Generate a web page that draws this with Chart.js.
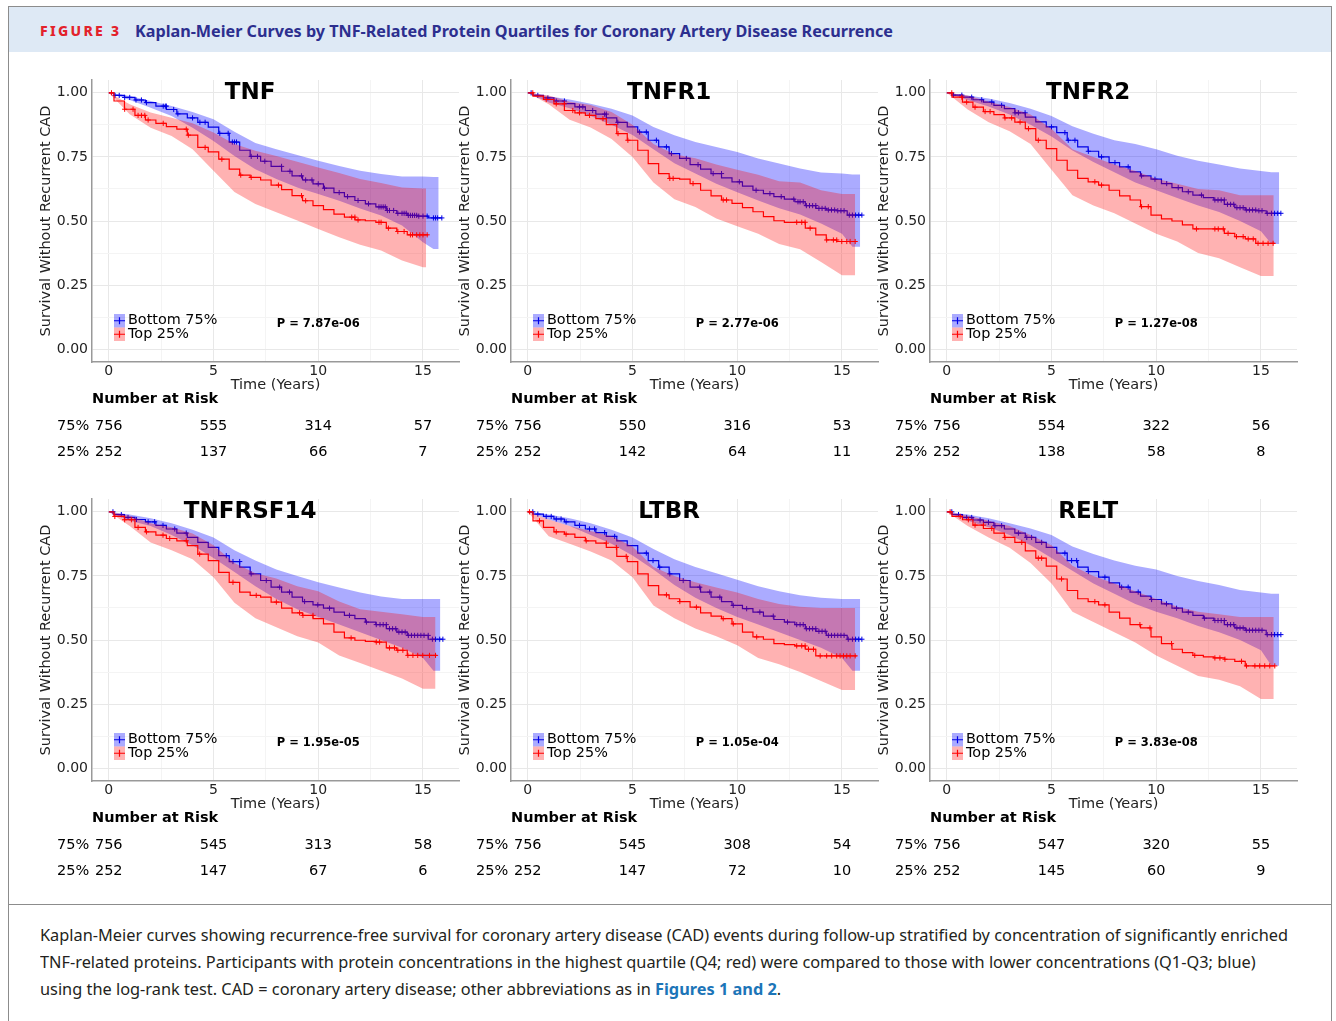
<!DOCTYPE html>
<html>
<head>
<meta charset="utf-8">
<script src="https://cdn.jsdelivr.net/npm/chart.js@4.4.1/dist/chart.umd.min.js"></script>
<style>
  body { margin: 0; background: #fff; }
  #page { position: relative; width: 1336px; height: 1021px; overflow: hidden; font-family: 'Noto Sans', sans-serif; }
  #frame { position: absolute; left: 8px; top: 6px; width: 1322px; height: 1040px; border: 1px solid #8c8c8c; }
  #head { position: absolute; left: 9px; top: 7px; width: 1322px; height: 45px; background: #dee9f5; }
  #figno { position: absolute; left: 40px; top: 21px; font-weight: 800; font-size: 14px; letter-spacing: 2.3px; color: #e3222b; white-space: nowrap; }
  #figtitle { position: absolute; left: 135px; top: 20px; font-weight: bold; font-size: 16px; color: #2c2f8f; white-space: nowrap; transform-origin: 0 0; }
  #rule { position: absolute; left: 9px; top: 904px; width: 1322px; height: 1px; background: #8c8c8c; }
  #caption { position: absolute; left: 40px; top: 922px; font-size: 16px; line-height: 27px; color: #231f20; }
  #caption div { white-space: nowrap; transform-origin: 0 0; }
  #caption b { color: #1c75b8; }
  canvas.panel { position: absolute; }
</style>
</head>
<body>
<div id="page">
  <div id="frame"></div>
  <div id="head"></div>
  <div id="figno">FIGURE 3</div>
  <div id="figtitle">Kaplan-Meier Curves by TNF-Related Protein Quartiles for Coronary Artery Disease Recurrence</div>
  <div id="rule"></div>
  <div id="caption">
    <div>Kaplan-Meier curves showing recurrence-free survival for coronary artery disease (CAD) events during follow-up stratified by concentration of significantly enriched</div>
    <div>TNF-related proteins. Participants with protein concentrations in the highest quartile (Q4; red) were compared to those with lower concentrations (Q1-Q3; blue)</div>
    <div>using the log-rank test. CAD = coronary artery disease; other abbreviations as in <b>Figures 1 and 2</b>.</div>
  </div>
</div>
<script>
const proteins = ['TNF', 'TNFR1', 'TNFR2', 'TNFRSF14', 'LTBR', 'RELT'];
const pValues = ['7.87e-06', '2.77e-06', '1.27e-08', '1.95e-05', '1.05e-04', '3.83e-08'];
const groupLabels = ['Bottom 75%', 'Top 25%'];
const riskLabels = ['75%', '25%'];
const riskTimes = [0, 5, 10, 15];
const riskBottom = [
  [756, 555, 314, 57], [756, 550, 316, 53], [756, 554, 322, 56],
  [756, 545, 313, 58], [756, 545, 308, 54], [756, 547, 320, 55]
];
const riskTop = [
  [252, 137, 66, 7], [252, 142, 64, 11], [252, 138, 58, 8],
  [252, 147, 67, 6], [252, 147, 72, 10], [252, 145, 60, 9]
];
const xTicks = [0, 2.5, 5, 7.5, 10, 12.5, 15];
const yTicks = [0, 0.125, 0.25, 0.375, 0.5, 0.625, 0.75, 0.875, 1];

// KM estimates read every half year
const lineTimes = [0, 0.5, 1, 1.5, 2, 2.5, 3, 3.5, 4, 4.5, 5, 5.5, 6, 6.5, 7, 7.5,
  8, 8.5, 9, 9.5, 10, 10.5, 11, 11.5, 12, 12.5, 13, 13.5, 14, 14.5, 15, 15.5];
const survBottom = [
  [1, .990, .982, .972, .962, .948, .935, .918, .902, .885, .866, .842, .808, .776, .752, .733, .713, .694, .676, .660, .645, .628, .611, .595, .580, .567, .555, .541, .530, .522, .519, .512],
  [1, .990, .980, .968, .958, .945, .931, .917, .902, .885, .867, .847, .815, .789, .763, .744, .720, .702, .685, .668, .653, .636, .620, .607, .595, .585, .575, .560, .549, .543, .540, .523],
  [1, .991, .983, .973, .964, .951, .938, .922, .905, .887, .867, .845, .815, .789, .772, .750, .728, .711, .692, .676, .663, .646, .630, .614, .601, .591, .582, .565, .552, .543, .540, .530],
  [1, .989, .978, .970, .961, .947, .933, .917, .900, .881, .861, .829, .806, .784, .758, .732, .706, .687, .667, .650, .637, .624, .609, .596, .583, .570, .560, .544, .531, .518, .518, .503],
  [1, .991, .982, .972, .961, .947, .933, .919, .904, .887, .868, .839, .810, .784, .758, .732, .706, .687, .667, .650, .635, .622, .609, .593, .580, .570, .560, .544, .534, .518, .518, .503],
  [1, .989, .978, .968, .959, .946, .933, .917, .900, .881, .861, .839, .810, .784, .767, .745, .723, .706, .687, .671, .658, .641, .624, .609, .596, .585, .576, .560, .547, .538, .538, .521]
];
const survTop = [
  [1, .968, .936, .912, .894, .881, .868, .858, .835, .787, .770, .741, .702, .679, .670, .660, .640, .622, .599, .579, .560, .544, .527, .515, .504, .501, .495, .472, .459, .446, .446, null],
  [1, .987, .974, .957, .931, .922, .912, .899, .876, .841, .815, .776, .724, .685, .666, .663, .646, .620, .598, .582, .569, .552, .536, .517, .501, .495, .495, .472, .446, .426, .420, .420],
  [1, .983, .964, .944, .927, .915, .902, .886, .860, .815, .782, .737, .698, .666, .653, .640, .620, .598, .582, .556, .523, .508, .500, .485, .469, .469, .469, .452, .439, .430, .413, .413],
  [1, .982, .969, .939, .922, .909, .896, .887, .868, .835, .810, .764, .725, .687, .674, .667, .648, .624, .606, .596, .583, .563, .531, .508, .499, .495, .492, .469, .460, .440, .440, .440],
  [1, .965, .939, .922, .913, .900, .887, .878, .861, .826, .806, .758, .712, .676, .661, .650, .628, .606, .593, .583, .563, .531, .512, .503, .486, .482, .477, .464, .438, .438, .438, .438],
  [1, .982, .969, .948, .935, .917, .900, .881, .848, .819, .788, .738, .693, .661, .650, .637, .609, .585, .560, .547, .512, .486, .464, .451, .440, .434, .430, .425, .417, .399, .399, .399]
];

// 95% confidence limits read every year
const bandTimes = [0, 1, 2, 3, 4, 5, 6, 7, 8, 9, 10, 11, 12, 13, 14, 15, 15.5];
const bottomUpper = [
  [1, .988, .968, .949, .925, .897, .848, .804, .780, .757, .735, .715, .696, .683, .674, .674, .672],
  [1, .987, .974, .957, .938, .912, .867, .834, .808, .789, .769, .744, .724, .705, .689, .685, .681],
  [1, .990, .978, .960, .938, .910, .870, .840, .815, .800, .780, .755, .735, .720, .705, .695, .690],
  [1, .990, .975, .955, .930, .900, .850, .810, .775, .750, .725, .705, .685, .670, .660, .660, .660],
  [1, .990, .975, .955, .930, .900, .855, .815, .785, .760, .735, .710, .690, .675, .665, .660, .660],
  [1, .990, .975, .955, .935, .910, .865, .835, .810, .790, .775, .750, .730, .715, .695, .685, .680]
];
const bottomLower = [
  [1, .972, .942, .910, .864, .812, .754, .702, .664, .631, .605, .579, .549, .521, .482, .417, .391],
  [1, .962, .940, .910, .875, .835, .780, .725, .685, .645, .612, .580, .550, .525, .490, .450, .400],
  [1, .972, .947, .915, .875, .830, .775, .730, .690, .650, .620, .590, .560, .535, .500, .460, .410],
  [1, .965, .945, .910, .870, .820, .765, .710, .660, .620, .590, .560, .530, .500, .470, .430, .380],
  [1, .970, .945, .910, .875, .830, .775, .715, .665, .625, .590, .560, .530, .500, .470, .430, .380],
  [1, .965, .940, .910, .870, .820, .770, .720, .680, .640, .610, .585, .555, .530, .500, .460, .400]
];
const topUpper = [
  [1, .955, .923, .903, .881, .845, .800, .774, .754, .731, .709, .687, .664, .648, .631, .627, .627],
  [1, .990, .965, .952, .925, .875, .800, .760, .745, .720, .700, .680, .655, .650, .620, .605, .605],
  [1, .990, .965, .945, .915, .860, .780, .750, .720, .695, .665, .645, .625, .620, .600, .600, .600],
  [1, .985, .955, .940, .915, .870, .800, .760, .740, .710, .690, .650, .620, .610, .600, .590, .590],
  [1, .970, .945, .925, .905, .865, .785, .750, .725, .705, .685, .660, .640, .630, .625, .625, .625],
  [1, .985, .965, .945, .910, .870, .790, .750, .720, .690, .660, .630, .610, .600, .590, .590, .590]
];
const topLower = [
  [1, .916, .864, .832, .780, .696, .613, .566, .534, .502, .469, .437, .407, .385, .346, .320, .320],
  [1, .955, .895, .865, .820, .750, .650, .585, .555, .510, .480, .450, .410, .390, .340, .288, .288],
  [1, .935, .885, .850, .800, .700, .600, .560, .530, .490, .450, .420, .375, .355, .320, .285, .285],
  [1, .945, .880, .850, .815, .745, .645, .585, .550, .515, .490, .440, .410, .380, .350, .310, .310],
  [1, .905, .875, .845, .810, .745, .635, .585, .545, .515, .480, .430, .405, .375, .340, .305, .305],
  [1, .945, .900, .860, .800, .720, .610, .570, .530, .490, .440, .400, .360, .345, .320, .270, .270]
];

// last follow-up [bottom, top] for the curves and for the bands
const lineEnd = [[15.9, 15.25], [15.95, 15.7], [15.95, 15.66], [15.95, 15.66], [15.95, 15.7], [15.95, 15.66]];
const bandEnd = [[15.75, 15.15], [15.87, 15.63], [15.87, 15.61], [15.83, 15.6], [15.87, 15.63], [15.87, 15.61]];

// censoring times (years)
const censorBottom = [
  [0.3, 0.5, 0.76, 1.0, 1.3, 1.56, 1.8, 2.6, 2.7, 2.75, 3.1, 3.3, 4.0, 4.35, 4.6, 5.3, 5.7, 5.9, 6.0, 6.1, 6.8, 7.1, 7.45, 8.25, 8.65, 9.2, 9.4, 9.7, 10.0, 10.3, 11.0, 11.4, 11.9, 12.4, 12.9, 13.0, 13.1, 13.2, 13.3, 13.4, 13.6, 13.8, 14.0, 14.1, 14.2, 14.3, 14.4, 14.5, 14.6, 14.7, 14.8, 15.0, 15.2, 15.5, 15.6, 15.7, 15.9],
  [0.16, 0.48, 0.96, 1.36, 1.75, 2.47, 2.63, 3.1, 3.67, 3.75, 4.3, 5.34, 5.66, 6.14, 6.62, 6.86, 7.57, 8.13, 8.85, 9.25, 10.1, 10.9, 11.56, 12.1, 12.7, 12.9, 13.0, 13.15, 13.3, 13.45, 13.6, 13.75, 13.9, 14.05, 14.2, 14.35, 14.5, 14.65, 14.8, 14.95, 15.1, 15.35, 15.5, 15.65, 15.8, 15.95],
  [0.32, 0.72, 1.19, 1.67, 2.15, 2.62, 3.26, 3.42, 3.74, 5.0, 5.64, 5.8, 6.12, 6.76, 7.39, 8.03, 8.66, 9.3, 9.94, 10.5, 11.05, 11.53, 12.16, 12.8, 12.95, 13.1, 13.25, 13.4, 13.55, 13.7, 13.85, 14.0, 14.15, 14.3, 14.45, 14.6, 14.75, 14.9, 15.05, 15.3, 15.5, 15.65, 15.8, 15.95],
  [0.2, 0.6, 0.92, 1.32, 1.88, 2.19, 2.59, 3.15, 3.7, 5.61, 5.93, 6.25, 6.8, 7.52, 8.16, 8.63, 9.35, 9.98, 10.54, 11.49, 12.3, 12.77, 12.95, 13.1, 13.25, 13.4, 13.55, 13.7, 13.85, 14.0, 14.15, 14.3, 14.45, 14.6, 14.75, 14.9, 15.05, 15.25, 15.45, 15.6, 15.8, 15.95],
  [0.24, 0.48, 0.88, 1.12, 1.36, 1.59, 1.83, 2.47, 2.95, 3.19, 3.67, 4.15, 5.66, 5.98, 6.3, 6.78, 7.42, 8.21, 8.69, 9.17, 9.81, 10.45, 11.08, 11.72, 12.4, 12.84, 13.0, 13.15, 13.3, 13.45, 13.6, 13.75, 13.9, 14.05, 14.2, 14.35, 14.5, 14.65, 14.8, 14.95, 15.1, 15.3, 15.5, 15.65, 15.8, 15.95],
  [0.24, 0.56, 0.95, 1.19, 1.59, 1.99, 2.3, 2.62, 3.42, 3.82, 4.05, 4.53, 5.64, 5.96, 6.2, 6.76, 7.55, 8.35, 8.66, 9.14, 9.78, 10.49, 10.97, 11.53, 12.3, 12.8, 12.95, 13.1, 13.25, 13.4, 13.55, 13.7, 13.85, 14.0, 14.15, 14.3, 14.45, 14.6, 14.75, 14.9, 15.05, 15.3, 15.5, 15.65, 15.8, 15.95]
];
const censorTop = [
  [0.13, 0.76, 1.16, 1.4, 1.56, 1.72, 1.88, 2.6, 3.7, 3.8, 4.6, 5.4, 6.3, 6.8, 8.1, 9.2, 9.4, 11.6, 11.75, 11.9, 12.9, 13.0, 13.35, 13.8, 14.1, 14.4, 14.5, 14.7, 14.85, 15.0, 15.2],
  [0.24, 0.88, 1.36, 1.75, 2.15, 2.47, 2.95, 3.59, 4.31, 4.78, 6.78, 6.94, 7.89, 9.33, 9.49, 12.84, 13.08, 13.24, 13.48, 14.27, 14.59, 14.75, 14.99, 15.23, 15.39, 15.63],
  [0.24, 0.72, 0.95, 1.35, 1.83, 2.07, 2.78, 3.1, 3.5, 3.9, 4.37, 7.07, 7.39, 9.3, 9.62, 11.92, 12.8, 12.96, 13.2, 13.43, 13.83, 14.15, 14.39, 14.63, 14.86, 15.1, 15.34, 15.58],
  [0.29, 0.76, 1.08, 1.4, 1.8, 2.59, 2.91, 3.7, 4.34, 5.93, 7.04, 8.0, 9.11, 9.27, 9.75, 11.57, 12.77, 12.93, 13.4, 13.64, 13.8, 14.04, 14.28, 14.52, 14.75, 14.99, 15.31, 15.6],
  [0.08, 0.56, 1.36, 1.83, 2.79, 3.75, 4.23, 4.7, 6.62, 7.26, 8.05, 9.33, 9.81, 10.93, 12.84, 13.08, 13.24, 13.4, 13.64, 13.96, 14.27, 14.51, 14.75, 14.91, 15.07, 15.23, 15.39, 15.63],
  [0.16, 0.64, 1.03, 1.35, 1.75, 2.15, 2.78, 3.58, 4.37, 4.53, 5.48, 7.07, 7.55, 9.22, 9.7, 10.73, 11.84, 12.8, 13.04, 13.28, 14.07, 14.31, 14.71, 14.94, 15.18, 15.42, 15.66]
];

const lineColor = ['#0000e6', '#ff0000'];
const bandColor = ['rgba(0, 0, 255, 0.33)', 'rgba(255, 0, 0, 0.3)'];
const FONT = '"DejaVu Sans", sans-serif';

// curve points up to the end of follow-up, last value carried to the end
function curvePoints(times, values, end) {
  const pts = [];
  times.forEach((t, i) => {
    if (t < end && values[i] != null) pts.push({ x: t, y: values[i] });
  });
  pts.push({ x: end, y: pts[pts.length - 1].y });
  return pts;
}

// censor marks sit on the drawn step curve
function censorPoints(cens, values) {
  return cens.map(t => {
    let best = 0;
    lineTimes.forEach((lt, i) => {
      if (values[i] != null && Math.abs(lt - t) < Math.abs(lineTimes[best] - t)) best = i;
    });
    return { x: t, y: values[best] };
  });
}

const isMajorX = v => v % 5 === 0;
const isMajorY = v => Math.abs(v * 4 - Math.round(v * 4)) < 1e-9;

function panelText(p) {
  return {
    id: 'panelText',
    afterDraw(chart) {
      const { ctx, chartArea: a, scales: { x, y } } = chart;
      ctx.save();
      ctx.fillStyle = '#000';
      ctx.textBaseline = 'middle';
      ctx.textAlign = 'center';
      ctx.font = 'bold 23px ' + FONT;
      ctx.fillText(proteins[p], x.getPixelForValue(6.75), y.getPixelForValue(1));
      ctx.font = 'bold 11.5px ' + FONT;
      ctx.fillText('P = ' + pValues[p], x.getPixelForValue(10), y.getPixelForValue(0.1));

      // legend keys: band colour, line and a cross
      const kx = a.left + 22, ky = a.bottom - 48, kw = 11, kh = 13.5;
      groupLabels.forEach((label, i) => {
        const top = ky + i * kh, cy = top + kh / 2;
        ctx.fillStyle = bandColor[i];
        ctx.fillRect(kx, top, kw, kh);
        ctx.strokeStyle = lineColor[i];
        ctx.lineWidth = 1.2;
        ctx.beginPath();
        ctx.moveTo(kx, cy); ctx.lineTo(kx + kw, cy);
        ctx.moveTo(kx + kw / 2, cy - 3.5); ctx.lineTo(kx + kw / 2, cy + 3.5);
        ctx.stroke();
        ctx.fillStyle = '#000';
        ctx.textAlign = 'left';
        ctx.font = '14.4px ' + FONT;
        ctx.fillText(label, kx + kw + 3, cy);
      });

      // number at risk table under the axis
      ctx.font = 'bold 14.5px ' + FONT;
      ctx.textAlign = 'left';
      ctx.fillText('Number at Risk', a.left, a.bottom + 37);
      ctx.font = '14.5px ' + FONT;
      [riskBottom[p], riskTop[p]].forEach((row, r) => {
        const ry = a.bottom + 64 + r * 26;
        ctx.textAlign = 'left';
        ctx.fillText(riskLabels[r], a.left - 35, ry);
        ctx.textAlign = 'center';
        row.forEach((n, k) => ctx.fillText(String(n), x.getPixelForValue(riskTimes[k]), ry));
      });
      ctx.restore();
    }
  };
}

function makeChart(canvas, p) {
  const groups = [
    { surv: survTop[p], hi: topUpper[p], lo: topLower[p], cens: censorTop[p], end: lineEnd[p][1], bEnd: bandEnd[p][1], c: 1 },
    { surv: survBottom[p], hi: bottomUpper[p], lo: bottomLower[p], cens: censorBottom[p], end: lineEnd[p][0], bEnd: bandEnd[p][0], c: 0 }
  ];
  // index order = drawing order from the top: red on top of blue
  const datasets = [];
  groups.forEach(g => {
    const base = datasets.length;
    datasets.push({
      data: censorPoints(g.cens, g.surv), showLine: false, pointStyle: 'cross',
      pointRadius: 2.6, pointBorderWidth: 1, pointBorderColor: lineColor[g.c]
    });
    datasets.push({
      data: curvePoints(lineTimes, g.surv, g.end), stepped: 'middle',
      borderColor: lineColor[g.c], borderWidth: 1.2, pointRadius: 0
    });
    datasets.push({
      data: curvePoints(bandTimes, g.hi, g.bEnd), borderColor: 'transparent', borderWidth: 0,
      pointRadius: 0, fill: base + 3, backgroundColor: bandColor[g.c]
    });
    datasets.push({
      data: curvePoints(bandTimes, g.lo, g.bEnd), borderColor: 'transparent', borderWidth: 0,
      pointRadius: 0, fill: false
    });
  });

  return new Chart(canvas, {
    type: 'line',
    data: { datasets },
    options: {
      responsive: false,
      animation: false,
      events: [],
      layout: { padding: { left: 8, top: 20, right: 11, bottom: 76 } },
      plugins: { legend: { display: false }, tooltip: { enabled: false } },
      scales: {
        x: {
          type: 'linear', min: -0.8, max: 16.72,
          afterBuildTicks: s => { s.ticks = xTicks.map(v => ({ value: v })); },
          afterFit: s => { s.height = 32; },
          ticks: {
            padding: 1, color: '#222', font: { family: FONT, size: 14 },
            callback: v => isMajorX(v) ? String(v) : ''
          },
          grid: {
            drawTicks: false,
            color: c => isMajorX(c.tick.value) ? '#e8e8e8' : '#f4f4f4'
          },
          border: { color: '#999', width: 1.5 },
          title: { display: true, text: 'Time (Years)', color: '#222', padding: 0, font: { family: FONT, size: 14.5 } }
        },
        y: {
          min: -0.05, max: 1.05,
          afterBuildTicks: s => { s.ticks = yTicks.map(v => ({ value: v })); },
          afterFit: s => { s.width = 54; },
          ticks: {
            padding: 4, color: '#222', font: { family: FONT, size: 14 },
            callback: v => isMajorY(v) ? v.toFixed(2) : ''
          },
          grid: {
            drawTicks: false,
            color: c => isMajorY(c.tick.value) ? '#e8e8e8' : '#f4f4f4'
          },
          border: { color: '#999', width: 1.5 },
          title: { display: true, text: 'Survival Without Recurrent CAD', color: '#222', padding: 0, font: { family: FONT, size: 14.5 } }
        }
      }
    },
    plugins: [panelText(p)]
  });
}

const page = document.getElementById('page');
proteins.forEach((name, p) => {
  const cv = document.createElement('canvas');
  cv.className = 'panel';
  cv.width = 440;
  cv.height = 410;
  cv.style.left = (30 + (p % 3) * 419) + 'px';
  cv.style.top = (60 + Math.floor(p / 3) * 419) + 'px';
  page.appendChild(cv);
  makeChart(cv, p);
});

// squeeze header and caption text to the condensed face widths
function fitWidth(el, width) {
  const w = el.getBoundingClientRect().width;
  el.style.transform = 'scaleX(' + (width / w) + ')';
}
fitWidth(document.getElementById('figtitle'), 758);
const capLines = document.querySelectorAll('#caption div');
const capScale = 1248 / capLines[0].getBoundingClientRect().width;
capLines.forEach(d => { d.style.transform = 'scaleX(' + capScale + ')'; });
</script>
</body>
</html>
